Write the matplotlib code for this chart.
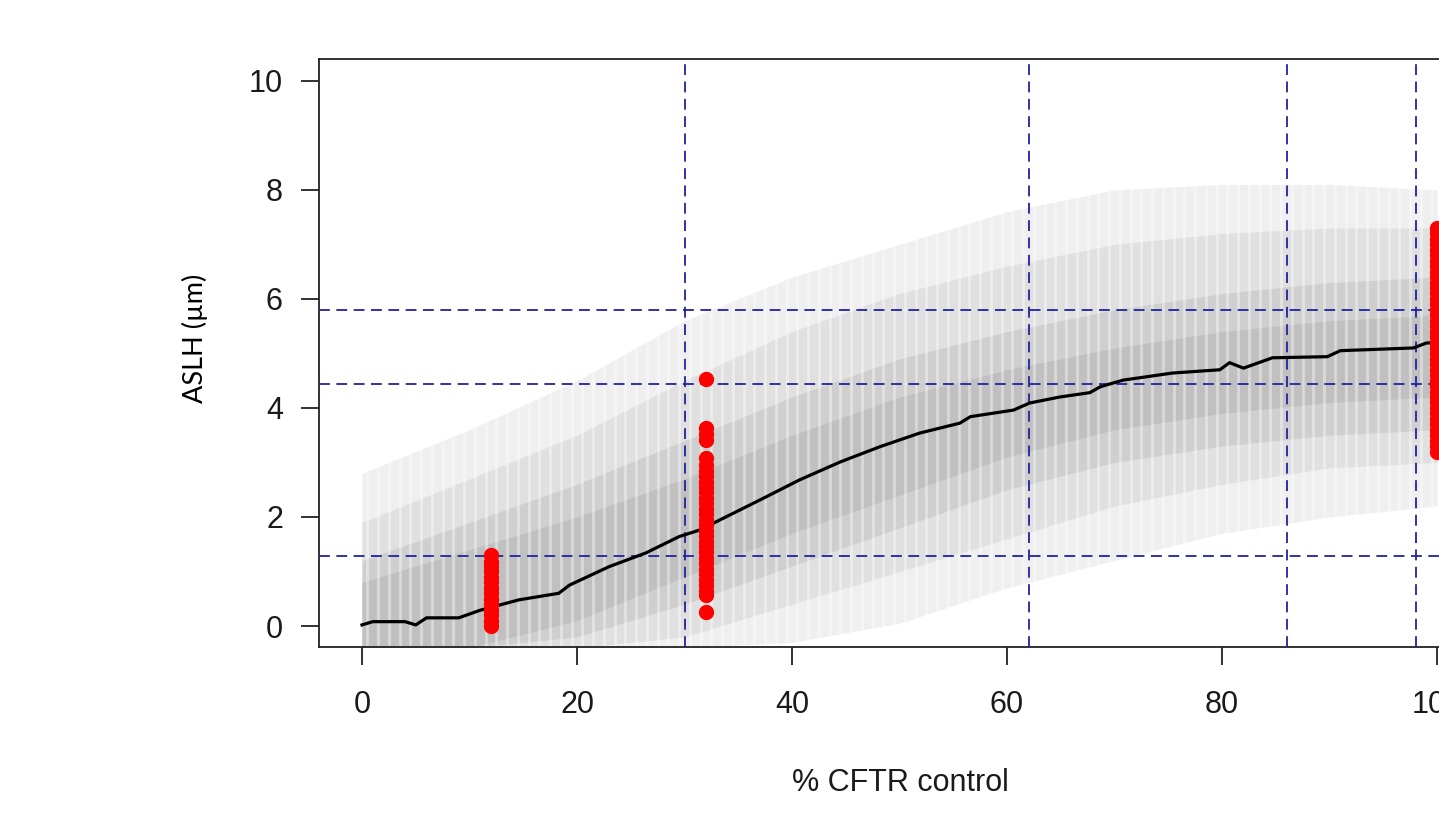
import numpy as np
import matplotlib.pyplot as plt

# simulated cloud, read as bands at every 10 % CFTR
cloud_x = [0, 10, 20, 30, 40, 50, 60, 70, 80, 90, 100]
outer_lo = [-0.4, -0.4, -0.4, -0.4, -0.3, 0.05, 0.7, 1.2, 1.7, 2.0, 2.2]
outer_hi = [2.8, 3.6, 4.5, 5.6, 6.4, 7.0, 7.6, 8.0, 8.1, 8.1, 8.0]
mid_lo = [-0.4, -0.4, -0.4, -0.2, 0.4, 1.0, 1.6, 2.2, 2.6, 2.9, 3.0]
mid_hi = [1.9, 2.7, 3.5, 4.5, 5.4, 6.1, 6.6, 7.0, 7.2, 7.3, 7.3]
inner_lo = [-0.4, -0.4, -0.2, 0.4, 1.1, 1.8, 2.5, 3.0, 3.3, 3.5, 3.6]
inner_hi = [1.2, 1.9, 2.6, 3.4, 4.2, 4.9, 5.4, 5.8, 6.1, 6.3, 6.4]
core_lo = [-0.4, -0.4, 0.1, 0.9, 1.7, 2.4, 3.1, 3.6, 3.9, 4.1, 4.2]
core_hi = [0.8, 1.4, 2.0, 2.7, 3.5, 4.2, 4.7, 5.1, 5.4, 5.6, 5.7]

# mean curve
mean_x = [0, 1, 4, 5, 6, 9, 11, 14.6, 18.3, 19.3, 23, 26.4, 29.5, 31.4, 37, 40.7,
          44.5, 48.2, 51.9, 55.6, 56.6, 60.6, 62.1, 64.9, 67.7, 68.7, 70.8, 75.4,
          79.8, 80.7, 82, 84.7, 89.8, 91, 97.8, 99, 100]
mean_y = [0.02, 0.08, 0.08, 0.02, 0.15, 0.15, 0.29, 0.48, 0.6, 0.75, 1.09, 1.34,
          1.64, 1.76, 2.31, 2.68, 3.01, 3.29, 3.54, 3.72, 3.84, 3.96, 4.09, 4.2,
          4.28, 4.39, 4.51, 4.64, 4.70, 4.83, 4.73, 4.92, 4.94, 5.05, 5.10, 5.19, 5.2]

# measured values
red12_y = [1.30, 1.18, 1.1, 1.0, 0.9, 0.8, 0.7, 0.6, 0.5, 0.4, 0.3, 0.2, 0.1, 0.0]
red32_y = [4.53, 3.63, 3.52, 3.41, 3.08, 2.95, 2.85, 2.75, 2.65, 2.55, 2.45, 2.35,
           2.25, 2.15, 2.05, 1.95, 1.85, 1.75, 1.65, 1.55, 1.45, 1.35, 1.25, 1.15,
           1.05, 0.95, 0.85, 0.75, 0.65, 0.57, 0.26]
red100_y = [7.3, 7.2, 7.1, 7.0, 6.9, 6.8, 6.7, 6.6, 6.5, 6.4, 6.3, 6.2, 6.1, 6.0,
            5.9, 5.8, 5.7, 5.6, 5.5, 5.4, 5.3, 5.2, 5.1, 5.0, 4.9, 4.8, 4.7, 4.6,
            4.5, 4.4, 4.3, 4.2, 4.1, 4.0, 3.9, 3.8, 3.7, 3.6, 3.5, 3.4, 3.3, 3.2]

vlines_x = [30, 62, 86, 98]
hlines_y = [1.28, 4.44, 5.8]

fig = plt.figure(figsize=(14.39, 8.22), dpi=100)
ax = fig.add_axes([319/1439, 175/822, (1480-319)/1439, 588/822])

bands = [(outer_lo, outer_hi, '#efefef'), (mid_lo, mid_hi, '#e0e0e0'),
         (inner_lo, inner_hi, '#cfcfcf'), (core_lo, core_hi, '#c0c0c0')]
for lo, hi, c in bands:
    ax.fill_between(cloud_x, lo, hi, color=c, lw=0, zorder=1)
# column gaps of the point cloud
for g in np.arange(-0.5, 101, 1.0):
    ax.axvline(g, color='white', lw=2.0, alpha=0.4, zorder=2)

ax.plot(mean_x, mean_y, color='black', lw=2.3, zorder=4)

for xv, ys in [(12, red12_y), (32, red32_y), (100, red100_y)]:
    ax.plot([xv]*len(ys), ys, 'o', color='red', ms=10, mec='red', zorder=5)

for xv in vlines_x:
    ax.axvline(xv, color='#22229f', lw=1.3, dashes=(6, 3.6), zorder=3)
for yv in hlines_y:
    ax.axhline(yv, color='#22229f', lw=1.3, dashes=(6, 3.6), zorder=3)

ax.set_xlim(-4, 104)
ax.set_ylim(-0.385, 10.4)
ax.set_xticks([0, 20, 40, 60, 80, 100])
ax.set_yticks([0, 2, 4, 6, 8, 10])
for s in ax.spines.values():
    s.set_color('#222222')
    s.set_linewidth(1.3)
ax.tick_params(axis='both', length=13, width=1.3, color='#222222',
               labelsize=22, labelcolor='#1a1a1a')
ax.tick_params(axis='x', pad=18)
ax.tick_params(axis='y', pad=13)
for lab in ax.get_xticklabels() + ax.get_yticklabels():
    lab.set_family('Liberation Sans')

fig.text(900/1439, 1 - 783/822, '% CFTR control', ha='center', va='center',
         fontsize=22, family='Liberation Sans', color='#1a1a1a')
fig.text(195/1439, 1 - 338/822, 'ASLH (µm)', ha='center', va='center',
         rotation=90, fontsize=19.5, family='Lato', color='black')

fig.savefig('out.png', dpi=100)
